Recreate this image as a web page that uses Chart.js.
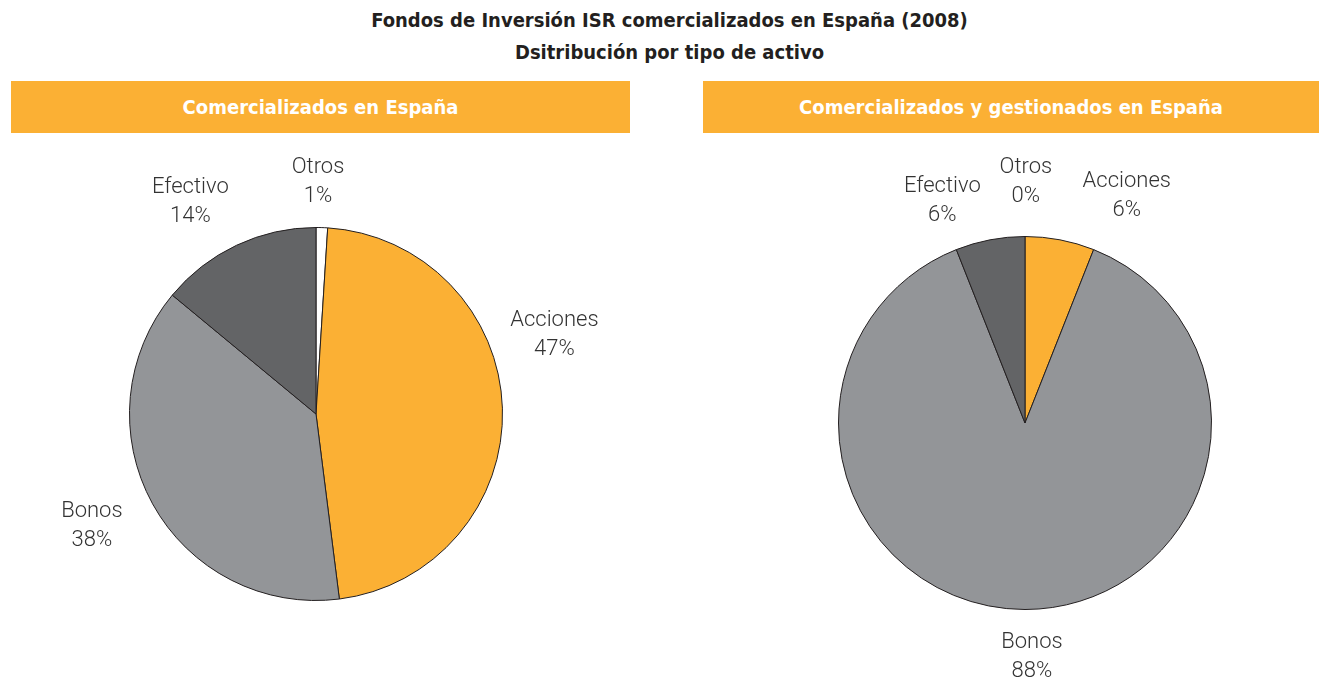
<!DOCTYPE html>
<html>
<head>
<meta charset="utf-8">
<script src="https://cdn.jsdelivr.net/npm/chart.js@4/dist/chart.umd.min.js"></script>
<style>
  html, body { margin: 0; padding: 0; background: #fff; }
  body { width: 1319px; height: 683px; position: relative; overflow: hidden; }
  .title {
    position: absolute; left: 0; width: 1339px; text-align: center;
    font-family: "Liberation Sans Narrow", "DejaVu Sans Condensed", sans-serif;
    font-weight: bold; font-size: 20px; color: #231f20; line-height: 32px; top: 4px;
  }
  .band {
    position: absolute; top: 81px; height: 52px; background: #fbb034; color: #fff;
    font-family: "Liberation Sans Narrow", "DejaVu Sans Condensed", sans-serif;
    font-weight: bold; font-size: 20px; line-height: 52px; text-align: center;
  }
  canvas { position: absolute; }
</style>
</head>
<body>
<div class="title">Fondos de Inversión ISR comercializados en España (2008)<br>Dsitribución por tipo de activo</div>
<div class="band" style="left:11px; width:619px;">Comercializados en España</div>
<div class="band" style="left:703px; width:616px;">Comercializados y gestionados en España</div>
<div style="position:absolute; left:0; top:135px; width:650px; height:548px;"><canvas id="leftChart"></canvas></div>
<div style="position:absolute; left:660px; top:135px; width:659px; height:548px;"><canvas id="rightChart"></canvas></div>
<script>
// ─────────────────────────────────────────────
// Datos
// ─────────────────────────────────────────────
const leftLabels  = ['Otros', 'Acciones', 'Bonos', 'Efectivo'];
const leftValues  = [1, 47, 38, 14];
const rightLabels = ['Acciones', 'Bonos', 'Efectivo', 'Otros'];
const rightValues = [6, 88, 6, 0];

const SLICE_COLORS = {
  Acciones: '#fbb034',
  Bonos:    '#939598',
  Efectivo: '#636466',
  Otros:    '#ffffff',
};

// ─────────────────────────────────────────────
// Etiquetas fuera del círculo (ángulo desde las 12, distancia en radios)
// ─────────────────────────────────────────────
const outsideLabels = {
  id: 'outsideLabels',
  afterDatasetsDraw(chart, args, opts) {
    const ctx = chart.ctx;
    const meta = chart.getDatasetMeta(0);
    const arc = meta.data[0];
    const cx = arc.x, cy = arc.y, r = arc.outerRadius;
    ctx.save();
    ctx.font = '300 22px Roboto, "Liberation Sans", sans-serif';
    ctx.fillStyle = '#333333';
    ctx.textAlign = 'center';
    ctx.textBaseline = 'middle';
    chart.data.labels.forEach((label, i) => {
      const a = opts.anchors[i];
      const rad = (a.angle - 90) * Math.PI / 180;
      const x = cx + Math.cos(rad) * a.dist * r;
      const y = cy + Math.sin(rad) * a.dist * r;
      const value = chart.data.datasets[0].data[i];
      ctx.fillText(label, x, y - 14);
      ctx.fillText(value + '%', x, y + 15);
    });
    ctx.restore();
  },
};

function createPie(canvasId, labels, values, padding, anchors) {
  const ctx = document.getElementById(canvasId).getContext('2d');
  return new Chart(ctx, {
    type: 'pie',
    data: {
      labels: labels,
      datasets: [{
        data: values,
        backgroundColor: labels.map((l) => SLICE_COLORS[l]),
        borderColor: '#231f20',
        borderWidth: 1,
      }],
    },
    options: {
      responsive: true,
      maintainAspectRatio: false,
      animation: false,
      layout: { padding: padding },
      plugins: {
        legend: { display: false },
        tooltip: { enabled: false },
        outsideLabels: { anchors: anchors },
      },
    },
    plugins: [outsideLabels],
  });
}

createPie('leftChart', leftLabels, leftValues,
  { left: 129, top: 92, right: 147, bottom: 82 },
  [
    { angle: 0.5,   dist: 1.246 },
    { angle: 71.5,  dist: 1.348 },
    { angle: 243.5, dist: 1.343 },
    { angle: 329.4, dist: 1.324 },
  ]);

createPie('rightChart', rightLabels, rightValues,
  { left: 178, top: 101, right: 107, bottom: 73 },
  [
    { angle: 24.1,  dist: 1.336 },
    { angle: 178.3, dist: 1.251 },
    { angle: 339.6, dist: 1.272 },
    { angle: 0.2,   dist: 1.294 },
  ]);
</script>
</body>
</html>
